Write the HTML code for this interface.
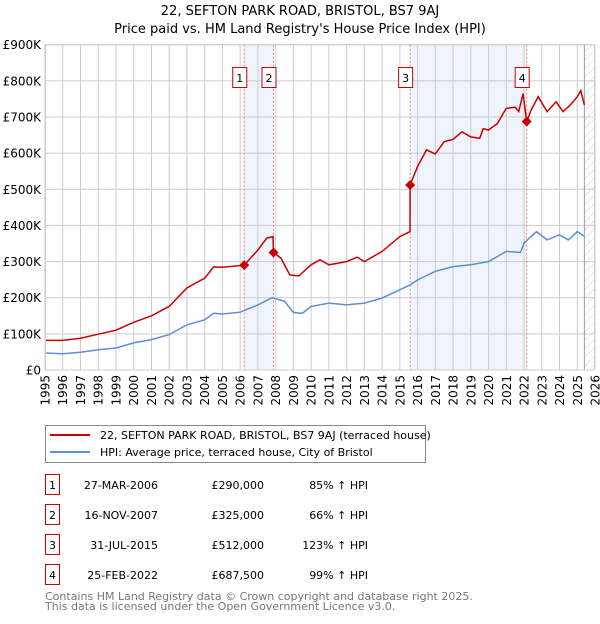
<!DOCTYPE html>
<html><head><meta charset="utf-8"><style>
body{margin:0;background:#fff;font-family:"DejaVu Sans","Liberation Sans",sans-serif;}
svg text{font-family:"DejaVu Sans","Liberation Sans",sans-serif;}
</style></head><body>
<svg id="c" width="600" height="620" xmlns="http://www.w3.org/2000/svg">
<defs><pattern id="hatch" width="6" height="6" patternUnits="userSpaceOnUse" patternTransform="rotate(45)"><line x1="0" y1="0" x2="0" y2="6" stroke="#ccc" stroke-width="1"/></pattern></defs>
<text x="300" y="15" text-anchor="middle" font-size="13">22, SEFTON PARK ROAD, BRISTOL, BS7 9AJ</text>
<text x="300" y="33" text-anchor="middle" font-size="13">Price paid vs. HM Land Registry's House Price Index (HPI)</text>
<g id="plot"></g>
<g>
<rect x="45.5" y="425.5" width="380" height="37" fill="#fff" stroke="#888"/>
<line x1="50" y1="435" x2="90" y2="435" stroke="#cc0000" stroke-width="2"/>
<text x="100" y="439" font-size="11">22, SEFTON PARK ROAD, BRISTOL, BS7 9AJ (terraced house)</text>
<line x1="50" y1="452" x2="90" y2="452" stroke="#5b8fd6" stroke-width="2"/>
<text x="100" y="456" font-size="11">HPI: Average price, terraced house, City of Bristol</text>
</g>
<g id="table" font-size="11"></g>
<text x="45" y="600" font-size="11" fill="#777">Contains HM Land Registry data © Crown copyright and database right 2025.</text>
<text x="45" y="610" font-size="11" fill="#777">This data is licensed under the Open Government Licence v3.0.</text>
</svg>
<script>
const hpiYears=[1995,1996,1997,1998,1999,2000,2001,2002,2003,2004,2004.5,2005,2006,2007,2007.8,2008.5,2009,2009.5,2010,2011,2012,2013,2014,2015,2015.6,2016,2017,2018,2019,2020,2021,2021.8,2022,2022.7,2023.3,2024,2024.5,2025,2025.4];
const hpiValues=[47,45,49,56,61,75,84,98,125,139,157,155,160,180,200,190,159,157,176,185,180,185,199,222,236,249,273,286,291,300,328,325,351,383,360,374,360,383,370];
const priceYears=[1995,1996,1997,1998,1999,2000,2001,2002,2003,2004,2004.5,2005,2006.23,2007,2007.5,2007.85,2007.88,2008.3,2008.8,2009.3,2010,2010.5,2011,2012,2012.6,2013,2014,2015,2015.57,2015.58,2016,2016.5,2017,2017.5,2018,2018.5,2019,2019.5,2019.7,2020,2020.5,2021,2021.5,2021.7,2021.95,2022.15,2022.4,2022.8,2023.3,2023.8,2024.2,2024.6,2025,2025.2,2025.4];
const priceValues=[82,82,88,99,110,132,150,176,227,254,285,284,290,332,365,369,325,309,263,260,291,305,291,300,312,300,328,369,383,512,563,609,598,632,638,659,645,641,668,664,682,724,727,715,765,687.5,719,756,715,742,715,733,756,773,733];
const saleLabels=["1","2","3","4"];
const saleYears=[2006.23,2007.88,2015.58,2022.15];
const saleValues=[290,325,512,687.5];
const saleDates=["27-MAR-2006","16-NOV-2007","31-JUL-2015","25-FEB-2022"];
const salePrices=["£290,000","£325,000","£512,000","£687,500"];
const salePct=["85% ↑ HPI","66% ↑ HPI","123% ↑ HPI","99% ↑ HPI"];
const yTicks=[0,100,200,300,400,500,600,700,800,900];
const yTickLabels=["£0","£100K","£200K","£300K","£400K","£500K","£600K","£700K","£800K","£900K"];
const xTicks=[1995,1996,1997,1998,1999,2000,2001,2002,2003,2004,2005,2006,2007,2008,2009,2010,2011,2012,2013,2014,2015,2016,2017,2018,2019,2020,2021,2022,2023,2024,2025,2026];

const L=45,R=595,T=44.7,B=370;
const xs=y=>L+(y-1995)/(2026-1995)*(R-L);
const ys=v=>B-v/900*(B-T);
const NS="http://www.w3.org/2000/svg";
const plot=document.getElementById('plot');
function mk(tag,attrs,parent){const e=document.createElementNS(NS,tag);for(const k in attrs)e.setAttribute(k,attrs[k]);(parent||plot).appendChild(e);return e;}
mk('rect',{x:L,y:T,width:R-L,height:B-T,fill:'#fff'});
// shaded spans
for(let i=0;i<saleYears.length;i+=2){
 const r=mk('rect',{x:xs(saleYears[i]),y:T,width:xs(saleYears[i+1])-xs(saleYears[i]),height:B-T,fill:'#eef3fc'});
 
 
}
const h=mk('rect',{x:xs(2025.4),y:T,width:R-xs(2025.4),height:B-T,fill:'url(#hatch)'});


// grid
xTicks.forEach(t=>{
 mk('line',{x1:xs(t),x2:xs(t),y1:T,y2:B,stroke:'#ccc','stroke-width':1});
 const tx=mk('text',{x:0,y:0,'font-size':12,'text-anchor':'end',transform:`translate(${xs(t)+4.5},${B+5}) rotate(-90)`});
 tx.textContent=t;
 
 
});
yTicks.forEach((t,i)=>{
 mk('line',{x1:L,x2:R,y1:ys(t),y2:ys(t),stroke:'#ccc','stroke-width':1});
 const tx=mk('text',{x:L-4,y:ys(t)+4.5,'font-size':12,'text-anchor':'end'});
 tx.textContent=yTickLabels[i];
 
 
});
mk('line',{x1:xs(2025.4),x2:xs(2025.4),y1:T,y2:B,stroke:'#999','stroke-width':1});
// sale vlines & boxes
saleYears.forEach((y,i)=>{
 mk('line',{x1:xs(y),x2:xs(y),y1:T,y2:B,stroke:'#f08080','stroke-width':1,'stroke-dasharray':'2,2'});
 const g=mk('g',{});
 
 
 mk('rect',{x:xs(y)-11.5,y:67.5,width:14,height:20,fill:'#fff',stroke:'#cc0000'},g);
 const t=mk('text',{x:xs(y)-4.5,y:82,'font-size':11,'text-anchor':'middle'},g);t.textContent=saleLabels[i];
});
function path(xa,va){return xa.map((x,i)=>(i?'L':'M')+xs(x).toFixed(1)+','+ys(va[i]).toFixed(1)).join('');}
const hp=mk('path',{d:path(hpiYears,hpiValues),fill:'none',stroke:'#5b8fd6','stroke-width':1.5});


const pp=mk('path',{d:path(priceYears,priceValues),fill:'none',stroke:'#cc0000','stroke-width':1.5});


saleYears.forEach((y,i)=>{
 const d=mk('path',{d:`M${xs(y)},${ys(saleValues[i])-5}l5,5l-5,5l-5,-5z`,fill:'#cc0000'});
 
 
});
mk('rect',{x:L+0.5,y:T,width:R-L-1,height:B-T,fill:'none',stroke:'#ccc'});
// table
const tb=document.getElementById('table');
saleLabels.forEach((s,i)=>{
 const yy=483+i*30;
 const g=mk('g',{},tb);
 
 
 mk('rect',{x:45.5,y:yy-8.5,width:14,height:20,fill:'#fff',stroke:'#cc0000'},g);
 let t=mk('text',{x:52.5,y:yy+6,'text-anchor':'middle'},g);t.textContent=s;
 t=mk('text',{x:158,y:yy+6,'text-anchor':'end'},g);t.textContent=saleDates[i];
 t=mk('text',{x:264,y:yy+6,'text-anchor':'end'},g);t.textContent=salePrices[i];
 t=mk('text',{x:368,y:yy+6,'text-anchor':'end'},g);t.textContent=salePct[i];
});
</script>
</body></html>
